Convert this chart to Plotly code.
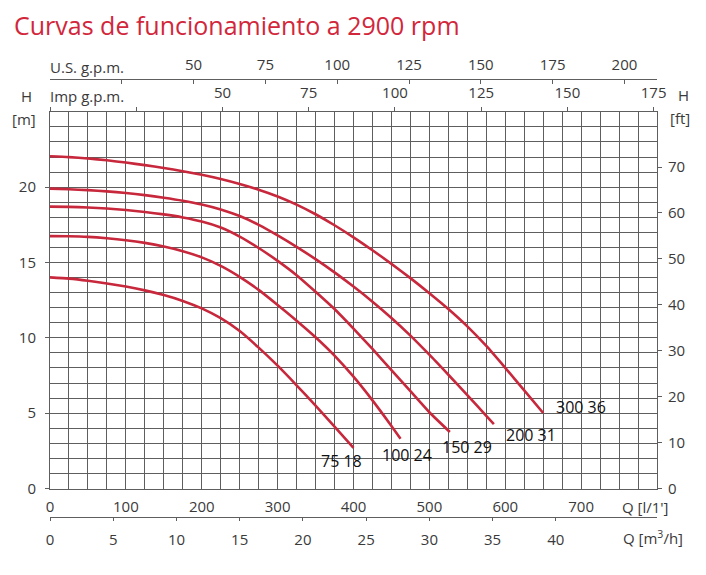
import plotly.graph_objects as go

# ---------------- data ----------------
q_300_36 = [0, 25, 50, 75, 100, 125, 150, 175, 200, 225, 250, 275, 300, 325, 350, 375, 400, 425, 450, 475, 500, 525, 550, 575, 600, 625, 650]
h_300_36 = [22.05, 21.99, 21.9, 21.78, 21.63, 21.46, 21.27, 21.06, 20.82, 20.54, 20.21, 19.83, 19.38, 18.84, 18.2, 17.47, 16.67, 15.81, 14.91, 13.96, 12.96, 11.91, 10.76, 9.46, 8.01, 6.51, 5.01]

q_200_31 = [0, 25, 50, 75, 100, 125, 150, 175, 200, 225, 250, 275, 300, 325, 350, 375, 400, 425, 450, 475, 500, 525, 550, 575, 585]
h_200_31 = [19.9, 19.86, 19.8, 19.72, 19.61, 19.47, 19.3, 19.1, 18.85, 18.52, 18.08, 17.5, 16.8, 16.04, 15.22, 14.34, 13.4, 12.4, 11.32, 10.15, 8.88, 7.55, 6.2, 4.82, 4.27]

q_150_29 = [0, 25, 50, 75, 100, 125, 150, 175, 200, 225, 250, 275, 300, 325, 350, 375, 400, 425, 450, 475, 500, 527]
h_150_29 = [18.71, 18.69, 18.65, 18.58, 18.48, 18.35, 18.19, 17.99, 17.72, 17.32, 16.72, 15.96, 15.11, 14.16, 13.06, 11.91, 10.61, 9.26, 7.86, 6.46, 5.06, 3.75]

q_100_24 = [0, 25, 50, 75, 100, 125, 150, 175, 200, 225, 250, 275, 300, 325, 350, 375, 400, 425, 450, 462]
h_100_24 = [16.75, 16.74, 16.7, 16.61, 16.48, 16.3, 16.06, 15.75, 15.34, 14.78, 14.05, 13.18, 12.18, 11.14, 10.04, 8.82, 7.42, 5.85, 4.15, 3.3]

q_75_18 = [0, 25, 50, 75, 100, 125, 150, 175, 200, 225, 250, 275, 300, 325, 350, 375, 400]
h_75_18 = [14.01, 13.93, 13.79, 13.61, 13.4, 13.15, 12.84, 12.45, 11.95, 11.3, 10.45, 9.35, 8.15, 6.85, 5.5, 4.1, 2.7]

curve_names = ["300 36", "200 31", "150 29", "100 24", "75 18"]
label_q = [700, 634, 549, 471, 384]
label_h = [5.4, 3.58, 2.78, 2.25, 1.81]

lmin_ticks = [0, 100, 200, 300, 400, 500, 600, 700]
m3h_ticks = [0, 5, 10, 15, 20, 25, 30, 35, 40]
us_ticks = [50, 75, 100, 125, 150, 175, 200]
imp_ticks = [50, 75, 100, 125, 150, 175]
m_ticks = [0, 5, 10, 15, 20]
ft_ticks = [0, 10, 20, 30, 40, 50, 60, 70]

Q_MAX = 800      # l/min
H_MAX = 25       # m
L_PER_USGAL = 3.785411784
L_PER_IMPGAL = 4.54609
FT_PER_M = 3.28084

# ---------------- styling ----------------
RED = "#c8283c"
TITLE_RED = "#d2263b"
GRID = "#5e5e5e"
TXT = "#3a3a3a"
FONT = "Open Sans"
W, H = 706, 575
ML, MR, MT, MB = 50, 49, 40, 20
PW, PH = W - ML - MR, H - MT - MB


def pxx(x):
    return (x - ML) / PW


def pxy(y):
    return (H - MB - y) / PH


fig = go.Figure()
series = [(q_300_36, h_300_36), (q_200_31, h_200_31), (q_150_29, h_150_29),
          (q_100_24, h_100_24), (q_75_18, h_75_18)]
for (q, h), name in zip(series, curve_names):
    fig.add_trace(go.Scatter(x=q, y=h, mode="lines", name=name,
                             line=dict(color=RED, width=2.6, shape="spline", smoothing=0.6),
                             hoverinfo="skip"))

# empty traces so that every auxiliary axis is registered
fig.add_trace(go.Scatter(x=[], y=[], xaxis="x2", yaxis="y", showlegend=False))
fig.add_trace(go.Scatter(x=[], y=[], xaxis="x3", yaxis="y", showlegend=False))
fig.add_trace(go.Scatter(x=[], y=[], xaxis="x4", yaxis="y", showlegend=False))
fig.add_trace(go.Scatter(x=[], y=[], xaxis="x", yaxis="y2", showlegend=False))

ydom = [pxy(488.5), pxy(111.8)]
tickfont = dict(family=FONT, size=15, color=TXT)

fig.update_layout(
    width=W, height=H,
    margin=dict(l=ML, r=MR, t=MT, b=MB),
    paper_bgcolor="white", plot_bgcolor="white",
    showlegend=False,
    xaxis=dict(range=[0, Q_MAX], domain=[0, 1], anchor="y",
               tickvals=lmin_ticks, ticks="", tickfont=tickfont, ticklabelstandoff=4,
               showgrid=True, gridcolor=GRID, gridwidth=1,
               minor=dict(dtick=25, tick0=0, showgrid=True, gridcolor=GRID, gridwidth=1),
               showline=True, linecolor=GRID, linewidth=1, mirror=True, zeroline=False),
    yaxis=dict(range=[0, H_MAX], domain=ydom, anchor="x",
               tickvals=m_ticks, ticks="outside", ticklen=4, tickcolor=GRID,
               tickfont=tickfont, ticklabelstandoff=6,
               showgrid=True, gridcolor=GRID, gridwidth=1,
               minor=dict(dtick=1, tick0=0, showgrid=True, gridcolor=GRID, gridwidth=1),
               showline=True, linecolor=GRID, linewidth=1, mirror=True, zeroline=False),
    yaxis2=dict(range=[0, H_MAX * FT_PER_M], overlaying="y", side="right", anchor="x",
                tickvals=ft_ticks, ticks="outside", ticklen=4, tickcolor=GRID,
                tickfont=tickfont, ticklabelstandoff=3,
                showgrid=False, zeroline=False, showline=False),
    xaxis2=dict(range=[0, Q_MAX * 60 / 1000], overlaying="x", anchor="free",
                position=pxy(517.3), side="bottom",
                tickvals=m3h_ticks, ticks="outside", ticklen=3, tickcolor=GRID,
                tickfont=tickfont, ticklabelstandoff=6,
                showline=True, linecolor=GRID, linewidth=1,
                showgrid=False, zeroline=False),
    xaxis3=dict(range=[0, Q_MAX / L_PER_USGAL], overlaying="x", anchor="free",
                position=pxy(79), side="top",
                tickvals=us_ticks, ticks="inside", ticklen=4, tickcolor=GRID,
                minor=dict(dtick=25, tick0=0, ticks="inside", ticklen=4, tickcolor=GRID, showgrid=False),
                tickfont=tickfont, ticklabelstandoff=3,
                showline=True, linecolor=GRID, linewidth=1,
                showgrid=False, zeroline=False),
    xaxis4=dict(range=[0, Q_MAX / L_PER_IMPGAL], overlaying="x", anchor="y", side="top",
                tickvals=imp_ticks, ticks="outside", ticklen=4, tickcolor=GRID,
                minor=dict(dtick=25, tick0=0, ticks="outside", ticklen=4, tickcolor=GRID, showgrid=False),
                tickfont=tickfont, ticklabelstandoff=3,
                showline=False, showgrid=False, zeroline=False),
)

ann = []
ann.append(dict(text="Curvas de funcionamiento a 2900 rpm", xref="paper", yref="paper",
                x=pxx(12), y=pxy(25), xanchor="left", yanchor="middle", showarrow=False,
                font=dict(family=FONT, size=25, color=TITLE_RED)))
for t, x, y, xa in [("U.S. g.p.m.", 48, 67, "left"), ("Imp g.p.m.", 48, 96, "left"),
                    ("H", 26, 96, "center"), ("[m]", 24, 119, "center"),
                    ("H", 683, 95, "center"), ("[ft]", 680, 118, "center"),
                    ("Q [l/1']", 645, 507, "center"), ("Q [m<sup>3</sup>/h]", 653, 537, "center")]:
    ann.append(dict(text=t, xref="paper", yref="paper", x=pxx(x), y=pxy(y),
                    xanchor=xa, yanchor="middle", showarrow=False, font=tickfont))
for name, q, h in zip(curve_names, label_q, label_h):
    ann.append(dict(text=name, xref="x", yref="y", x=q, y=h, xanchor="center", yanchor="middle",
                    showarrow=False, font=dict(family=FONT, size=16, color="#111111")))
fig.update_layout(annotations=ann)

fig.write_html("out.html")
